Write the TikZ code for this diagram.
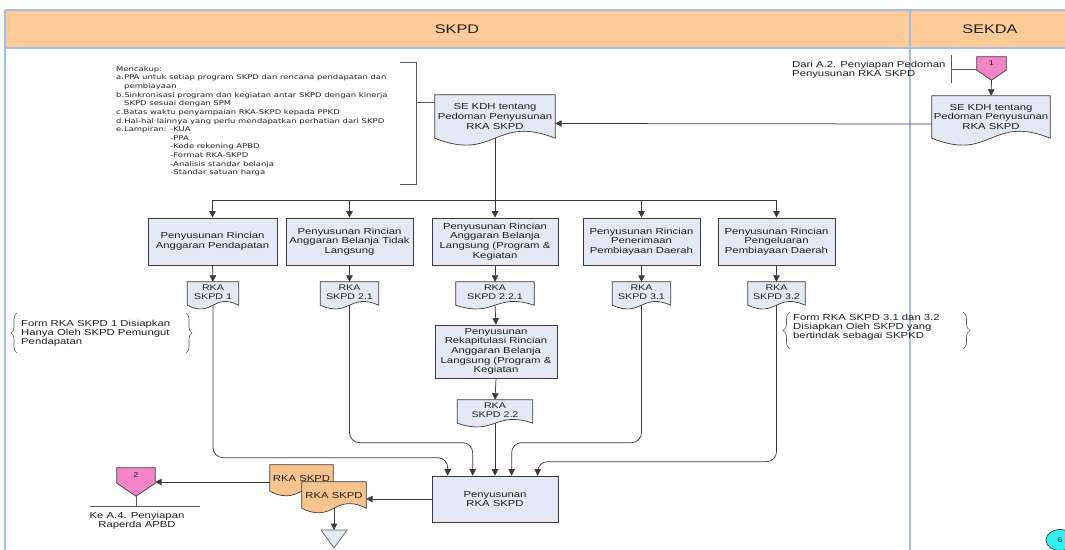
\documentclass[tikz,border=0pt]{standalone}
\usepackage{fontspec}
\setmainfont{Liberation Sans}[FakeStretch=1.3]
\newfontfamily\notefont{DejaVu Sans}[FakeStretch=1.3]
\usetikzlibrary{arrows.meta,calc,decorations.pathreplacing,shapes.geometric}
\pgfdeclarelayer{background}
\pgfsetlayers{background,main}
\definecolor{lane}{HTML}{A3BCE2}
\definecolor{hdr}{HTML}{FDCB98}
\definecolor{boxfill}{HTML}{E3EAF5}
\definecolor{orangedoc}{HTML}{FBC48E}
\definecolor{pinkc}{HTML}{F585C9}
\definecolor{edge}{HTML}{3A3A3A}
\definecolor{cyanc}{HTML}{33F0F0}
\definecolor{txt}{HTML}{1E1E1E}

\tikzset{
  proc/.style={draw=edge, fill=boxfill, line width=0.7pt, align=center, inner sep=1pt,
    font=\fontsize{8.7}{9.7}\selectfont},
  doctext/.style={align=center, inner sep=0pt, font=\fontsize{8.2}{9.2}\selectfont},
  rkadoc/.style={doctext, minimum height=23pt, execute at end node={\rule[-3pt]{0pt}{3pt}}},
  arr/.style={draw=edge, line width=0.75pt, -{Triangle[length=6.5pt,width=6.5pt]}},
  note/.style={draw=edge!85, line width=0.6pt},
  lanerule/.style={draw=lane, line width=1.5pt},
  plain/.style={inner sep=0pt, font=\fontsize{8.7}{9.2}\selectfont},
}

% wavy-bottom document outline behind a named node
\newcommand\docoutline[3][boxfill]{%
  \begin{pgfonlayer}{background}
    \draw[draw=edge, line width=0.7pt, fill=#1]
      (#2.north west) -- (#2.south west)
      .. controls ($(#2.south)+(0,#3)$) and ($(#2.south)+(0,-#3)$) .. (#2.south east)
      -- (#2.north east) -- cycle;
  \end{pgfonlayer}}

\begin{document}
\begin{tikzpicture}[x=1pt,y=-1pt, every node/.append style={text=txt}]
\useasboundingbox (0,0) rectangle (1065,549);

% swimlanes
\begin{pgfonlayer}{background}
  \fill[white] (0,0) rectangle (1065,549);
  \fill[hdr] (5,10) rectangle (1066,48);
  \draw[lanerule] (5,10) -- (1066,10);
  \draw[lanerule] (5,48) -- (1066,48);
  \draw[lanerule] (5,10) -- (5,550);
  \draw[lanerule] (910,10) -- (910,550);
\end{pgfonlayer}
\node[font=\fontsize{12.5}{14}\selectfont] (lskpd) at (457,29) {SKPD};
\node[font=\fontsize{12.5}{14}\selectfont] (lsekda) at (990,29) {SEKDA};

% incoming off-page connector 1
\node[plain, minimum width=29pt, minimum height=13pt, font=\fontsize{7}{8}\selectfont] (c1) at (991.5,63.5) {1};
\coordinate (c1tip) at ([yshift=-10pt]c1.south);
\begin{pgfonlayer}{background}
  \draw[draw=edge, fill=pinkc, line width=0.7pt]
    (c1.north west) -- (c1.north east) -- (c1.south east) -- (c1tip) -- (c1.south west) -- cycle;
\end{pgfonlayer}
\node[plain, anchor=north west, align=left] (fromA2) at (792,61) {Dari A.2. Penyiapan Pedoman\\Penyusunan RKA SKPD};
\coordinate (c1a) at (951,69);
\draw[note] (951,55) -- (951,83);
\draw[note] (c1a) -- (c1a -| c1.west);

% guideline documents
\node[doctext, minimum width=118pt, minimum height=42pt, font=\fontsize{8.7}{9.6}\selectfont] (seR) at (991,117) {SE KDH tentang\\Pedoman Penyusunan\\RKA SKPD};
\docoutline{seR}{24}
\node[doctext, minimum width=120pt, minimum height=43pt, font=\fontsize{8.7}{9.6}\selectfont] (seL) at (495,116.5) {SE KDH tentang\\Pedoman Penyusunan\\RKA SKPD};
\docoutline{seL}{24}
\draw[arr] (c1tip) -- (seR.north);
\draw[arr] ([yshift=-7pt]seR.west) -- ([yshift=-7pt]seL.east);

% scope note
\node[anchor=north west, align=left, inner sep=0pt, font=\notefont\fontsize{6.5}{8.65}\selectfont] (scope) at (116,66) {%
Mencakup:\\
a.PPA untuk setiap program SKPD dan rencana pendapatan dan\\
\hspace*{8pt}pembiayaan\\
b.Sinkronisasi program dan kegiatan antar SKPD dengan kinerja\\
\hspace*{8pt}SKPD sesuai dengan SPM\\
c.Batas waktu penyampaian RKA-SKPD kepada PPKD\\
d.Hal-hal lainnya yang perlu mendapatkan perhatian dari SKPD\\
e.Lampiran: -KUA\\
\phantom{e.Lampiran: }-PPA\\
\phantom{e.Lampiran: }-Kode rekening APBD\\
\phantom{e.Lampiran: }-Format RKA-SKPD\\
\phantom{e.Lampiran: }-Analisis standar belanja\\
\phantom{e.Lampiran: }-Standar satuan harga};
\draw[note] (400,62) -- (416,62) -- (416,184) -- (400,184);
\draw[note] (416,102) -- (seL.west |- 416,102);

% detail processes
\node[proc, minimum width=129pt, minimum height=47pt] (b1) at (212.5,241.5) {Penyusunan Rincian\\Anggaran Pendapatan};
\node[proc, minimum width=127pt, minimum height=47pt] (b2) at (349.5,241.5) {Penyusunan Rincian\\Anggaran Belanja Tidak\\Langsung};
\node[proc, minimum width=126pt, minimum height=47pt] (b3) at (495,241.5) {Penyusunan Rincian\\Anggaran Belanja\\Langsung (Program \&\\Kegiatan};
\node[proc, minimum width=117pt, minimum height=47pt] (b4) at (641.5,241.5) {Penyusunan Rincian\\Penerimaan\\Pembiayaan Daerah};
\node[proc, minimum width=117pt, minimum height=47pt] (b5) at (776.5,241.5) {Penyusunan Rincian\\Pengeluaran\\Pembiayaan Daerah};

\coordinate (bus) at (495,200);
\draw[arr] (seL.south) -- (b3.north);
\foreach \b in {b1,b2,b4,b5}
  \draw[arr] (seL.south) -- (bus) -| (\b.north);

% RKA forms
\node[rkadoc, minimum width=51pt] (d1) at (213,293.5) {RKA\\SKPD 1};
\node[rkadoc, minimum width=58pt] (d2) at (349.5,293.5) {RKA\\SKPD 2.1};
\node[rkadoc, minimum width=78pt] (d3) at (495,293.5) {RKA\\SKPD 2.2.1};
\node[rkadoc, minimum width=58pt] (d4) at (641.5,293.5) {RKA\\SKPD 3.1};
\node[rkadoc, minimum width=57pt] (d5) at (776.5,293.5) {RKA\\SKPD 3.2};
\foreach \d in {d1,d2,d3,d4,d5} {\docoutline{\d}{13}}
\draw[arr] (b1.south) -- (d1.north);
\draw[arr] (b2.south) -- (d2.north);
\draw[arr] (b3.south) -- (d3.north);
\draw[arr] (b4.south) -- (d4.north);
\draw[arr] (b5.south) -- (d5.north);

% recap of direct spending
\node[proc, minimum width=122pt, minimum height=53pt] (rk) at (496,351.5) {Penyusunan\\Rekapitulasi Rincian\\Anggaran Belanja\\Langsung (Program \&\\Kegiatan};
\node[rkadoc, minimum width=75pt] (d22) at (495,411.5) {RKA\\SKPD 2.2};
\docoutline{d22}{13}
\draw[arr] (d3.south) -- (rk.north);
\draw[arr] (rk.south) -- (d22.north);

% consolidation
\node[proc, minimum width=126pt, minimum height=46pt] (fin) at (495,499) {Penyusunan\\RKA SKPD};
\draw[arr] (d22.south) -- (fin.north);
\draw[arr, rounded corners=10pt] (d1.south) |- ([xshift=16pt,yshift=18pt]fin.north west) -- ([xshift=16pt]fin.north west);
\draw[arr, rounded corners=10pt] (d2.south) |- ([xshift=41pt,yshift=33pt]fin.north west) -- ([xshift=41pt]fin.north west);
\draw[arr, rounded corners=10pt] (d4.south) |- ([xshift=80pt,yshift=33pt]fin.north west) -- ([xshift=80pt]fin.north west);
\draw[arr, rounded corners=10pt] (d5.south) |- ([xshift=106pt,yshift=14pt]fin.north west) -- ([xshift=106pt]fin.north west);

% brace notes
\node[plain, anchor=west, align=left] (n1) at (21,333) {Form RKA SKPD 1 Disiapkan\\Hanya Oleh SKPD Pemungut\\Pendapatan};
\draw[note, decorate, decoration={brace, amplitude=6pt}] (17,353) -- (17,313);
\draw[note, decorate, decoration={brace, amplitude=6pt}] (186,313) -- (186,353);
\node[plain, anchor=west, align=left] (n2) at (793,327) {Form RKA SKPD 3.1 dan 3.2\\Disiapkan Oleh SKPD yang\\bertindak sebagai SKPKD};
\draw[note, decorate, decoration={brace, amplitude=7pt}] (790,349) -- (790,312);
\draw[note, decorate, decoration={brace, amplitude=7pt}] (963,312) -- (963,349);

% output documents
\node[doctext, minimum width=63pt, minimum height=26pt, font=\fontsize{8.7}{9.6}\selectfont] (dA) at (301.5,478) {RKA SKPD};
\docoutline[orangedoc]{dA}{16}
\node[doctext, minimum width=64pt, minimum height=26pt, font=\fontsize{8.7}{9.6}\selectfont] (dB) at (334,495) {RKA SKPD};
\docoutline[orangedoc]{dB}{16}
\draw[arr] (fin.west) -- (fin.west -| dB.east);

% outgoing off-page connector 2
\node[plain, minimum width=38pt, minimum height=15pt, font=\fontsize{7}{8}\selectfont] (c2) at (136,475.5) {2};
\coordinate (c2tip) at ([yshift=-13pt]c2.south);
\begin{pgfonlayer}{background}
  \draw[draw=edge, fill=pinkc, line width=0.7pt]
    (c2.north west) -- (c2.north east) -- (c2.south east) -- (c2tip) -- (c2.south west) -- cycle;
\end{pgfonlayer}
\draw[arr] ([yshift=-4pt]dA.west) -- ([yshift=-4pt]dA.west -| c2.east);
\coordinate (c2foot) at (136,506);
\draw[note] (c2tip) -- (c2foot);
\draw[note] (90,506) -- (200,506);
\node[plain, align=center] (toA4) at (137,520.5) {Ke A.4. Penyiapan\\Raperda APBD};

% archive
\coordinate (tri) at (334,530);
\draw[draw=edge!80, fill=boxfill, line width=0.7pt] (321,530) -- (347,530) -- (334,548) -- cycle;
\draw[arr] (dB.south) -- (tri);

% page reference
\node[ellipse, draw=edge, fill=cyanc, line width=0.7pt, minimum width=28pt, minimum height=21pt, inner sep=0pt, font=\fontsize{7}{8}\selectfont] (p6) at (1060,540) {6};
\end{tikzpicture}
\end{document}
